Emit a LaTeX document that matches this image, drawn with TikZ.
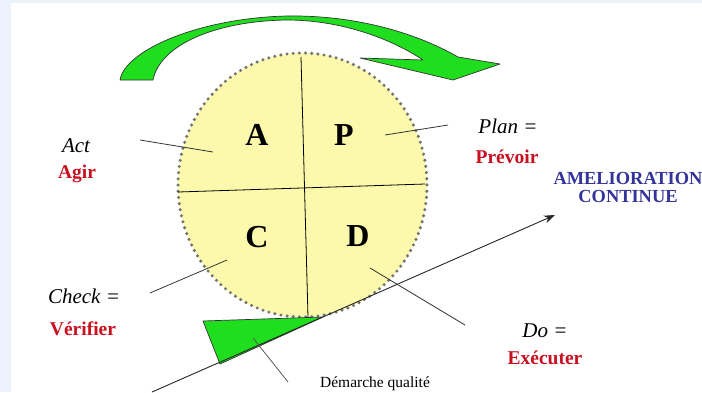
\documentclass[tikz,border=0pt]{standalone}
\usepackage{fontspec}
\setmainfont{Liberation Serif}
\usetikzlibrary{arrows.meta}
\definecolor{pdcablue}{RGB}{237,243,252}
\definecolor{pdcayellow}{RGB}{252,249,172}
\definecolor{pdcagreen}{RGB}{30,222,30}
\definecolor{pdcared}{RGB}{200,16,32}
\definecolor{pdcanavy}{RGB}{51,51,153}
\begin{document}
\begin{tikzpicture}[
		x=1pt, y=-1pt,
		every node/.style={inner sep=0pt, anchor=base},
		letter/.style={font=\fontsize{32}{32}\selectfont\bfseries},
		eng/.style={font=\fontsize{21}{21}\selectfont\itshape},
		fra/.style={font=\fontsize{19.5}{20}\selectfont\bfseries, text=pdcared},
		leader/.style={draw=black!80, line width=0.8pt},
		wedge/.style={fill=pdcagreen, draw=black!80, line width=0.7pt, line join=round}
		]
		
		% frame
		\useasboundingbox (0,0) rectangle (702,392);
		\fill[pdcablue] (0,0) rectangle (702,392);
		\fill[white] (11,3) rectangle (702,392);
		
		% the wheel
		\fill[pdcayellow] (302.5,185) ellipse [x radius=124.5, y radius=132];
		\draw[black!55, line width=3.4pt, line cap=round, dash pattern=on 0pt off 6.2pt]
			(302.5,185) ellipse [x radius=124.5, y radius=132];
		\draw[black, line width=0.8pt] (301,57) -- (308,317);
		\draw[black, line width=0.8pt] (178,192) -- (425,184);
		
		\node[letter] (a) at (257,145) {A};
		\node[letter] (p) at (344,145) {P};
		\node[letter] (c) at (257,247) {C};
		\node[letter] (d) at (358,246) {D};
		
		% turning arrow
		\filldraw[wedge] (120,80) .. controls (125,50) and (200,18) .. (287,16)
			.. controls (360,15) and (420,35) .. (458,57) -- (500,64) -- (453,80)
			-- (360,58) -- (423,60) .. controls (390,38) and (340,20) .. (287,20)
			.. controls (215,21) and (160,45) .. (153,80) -- cycle;
		
		% wedge under the wheel
		\coordinate (base) at (152,392);
		\coordinate (tip) at (555,215);
		\filldraw[wedge] (203,321) -- (323,317) -- (220,364) -- cycle;
		\draw[black!85, line width=0.9pt, -{Stealth[length=11pt, width=8pt]}] (base) -- (tip);
		
		% leaders
		\coordinate (act-out) at (140,140);
		\coordinate (act-in) at (213,152);
		\coordinate (plan-in) at (385,135);
		\coordinate (plan-out) at (448,125);
		\coordinate (check-out) at (150,293);
		\coordinate (check-in) at (227,260);
		\coordinate (do-in) at (370,268);
		\coordinate (do-out) at (465,325);
		\coordinate (dq-in) at (253,338);
		\coordinate (dq-out) at (288,382);
		\draw[leader] (act-out) -- (act-in);
		\draw[leader] (plan-in) -- (plan-out);
		\draw[leader] (check-out) -- (check-in);
		\draw[leader] (do-in) -- (do-out);
		\draw[leader, draw=black!65] (dq-in) -- (dq-out);
		
		% labels
		\node[eng] (act) at (76,152) {Act};
		\node[fra] (agir) at (77,178) {Agir};
		\node[eng] (check) at (84,303) {Check =};
		\node[fra] (verifier) at (83,335) {Vérifier};
		\node[eng] (plan) at (508,133) {Plan =};
		\node[fra] (prevoir) at (507,163) {Prévoir};
		\node[eng] (do) at (545,337) {Do =};
		\node[fra] (executer) at (545,364) {Exécuter};
		\node[font=\fontsize{18.4}{18}\selectfont\bfseries, text=pdcanavy, align=center, anchor=center] (amelio) at (628,187.5) {AMELIORATION\\CONTINUE};
		\node[font=\fontsize{15.5}{16}\selectfont] (demarche) at (375,387) {Démarche qualité};
		
	\end{tikzpicture}
\end{document}
